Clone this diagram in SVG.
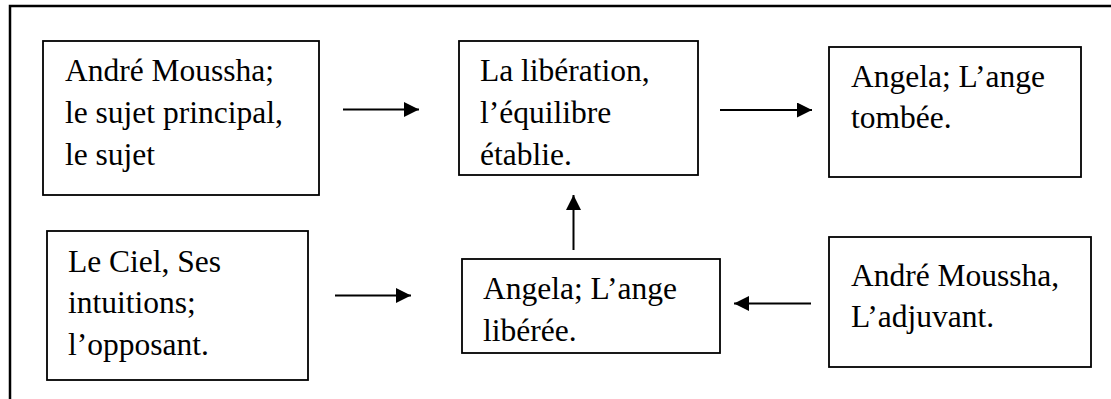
<svg xmlns="http://www.w3.org/2000/svg" width="1111" height="399" viewBox="0 0 1111 399">
  <style>
    .frame { fill: none; stroke: #000; stroke-width: 2.5; }
    .box { fill: #fff; stroke: #000; stroke-width: 1.8; }
    .label { font-family: "Liberation Serif", "Times New Roman", serif; font-size: 31.5px; fill: #000; }
    .edge { stroke: #000; stroke-width: 2; fill: none; marker-end: url(#head); }
  </style>
  <defs>
    <marker id="head" viewBox="0 0 15 15" refX="15" refY="7.5" markerWidth="15" markerHeight="15" markerUnits="userSpaceOnUse" orient="auto">
      <path d="M0,0 L15,7.5 L0,15 Z" fill="#000"/>
    </marker>
  </defs>

  <rect width="1111" height="399" fill="#fff"/>
  <!-- outer frame, open at the right and bottom edges -->
  <rect class="frame" x="10" y="6" width="1130" height="420"/>

  <g id="sujet">
    <rect class="box" x="43" y="41" width="276" height="154"/>
    <text class="label" x="65"><tspan x="65" y="81">André Moussha;</tspan><tspan x="65" y="123">le sujet principal,</tspan><tspan x="65" y="165">le sujet</tspan></text>
  </g>

  <g id="liberation">
    <rect class="box" x="459" y="41" width="239" height="134"/>
    <text class="label"><tspan x="480" y="81">La libération,</tspan><tspan x="480" y="123">l’équilibre</tspan><tspan x="480" y="165">établie.</tspan></text>
  </g>

  <g id="ange-tombee">
    <rect class="box" x="829" y="47" width="252" height="130"/>
    <text class="label"><tspan x="851" y="87">Angela; L’ange</tspan><tspan x="851" y="128">tombée.</tspan></text>
  </g>

  <g id="opposant">
    <rect class="box" x="47" y="231" width="261" height="149"/>
    <text class="label"><tspan x="68" y="272">Le Ciel, Ses</tspan><tspan x="68" y="313">intuitions;</tspan><tspan x="68" y="355">l’opposant.</tspan></text>
  </g>

  <g id="ange-liberee">
    <rect class="box" x="462" y="259" width="258" height="94"/>
    <text class="label"><tspan x="483" y="299">Angela; L’ange</tspan><tspan x="483" y="341">libérée.</tspan></text>
  </g>

  <g id="adjuvant">
    <rect class="box" x="829" y="237" width="262" height="130"/>
    <text class="label"><tspan x="851" y="286">André Moussha,</tspan><tspan x="851" y="327">L’adjuvant.</tspan></text>
  </g>

  <g id="connectors">
    <line class="edge" x1="343" y1="109.5" x2="419" y2="109.5"/>
    <line class="edge" x1="720" y1="110" x2="812" y2="110"/>
    <line class="edge" x1="573.5" y1="250" x2="573.5" y2="195"/>
    <line class="edge" x1="335" y1="295.5" x2="411" y2="295.5"/>
    <line class="edge" x1="811" y1="303.5" x2="734" y2="303.5"/>
  </g>
</svg>
